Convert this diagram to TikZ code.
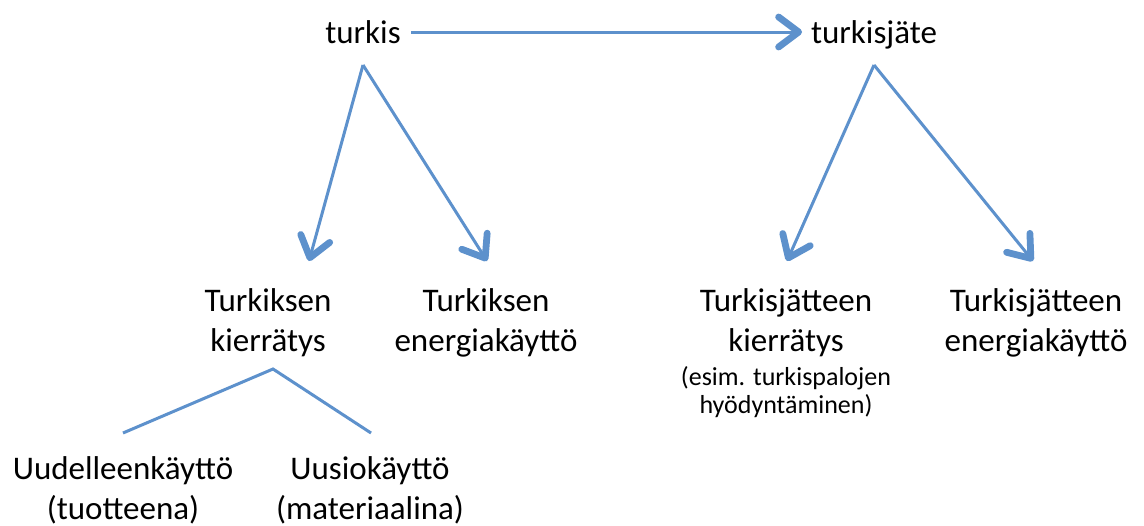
\documentclass[tikz,border=0pt]{standalone}
\usepackage{fontspec}
\setmainfont{Carlito}
\usetikzlibrary{arrows.meta}
\definecolor{flowblue}{RGB}{93,145,204}

\begin{document}
\begin{tikzpicture}[x=0.5pt, y=-0.5pt,
    term/.style={inner sep=0pt, align=center, font=\fontsize{16.5}{20}\selectfont},
    note/.style={inner sep=0pt, align=center, font=\fontsize{13}{14}\selectfont},
    arrow/.style={draw=flowblue, line width=1.5pt, -{Straight Barb[length=10pt, width=15pt, line width=3.4pt, round]}},
    branch/.style={draw=flowblue, line width=1.5pt}
]
    \useasboundingbox (0,0) rectangle (1144,525);

    \node[term, anchor=base] (turkis) at (363,43) {turkis};
    \node[term, anchor=base] (jate) at (874,43) {turkisjäte};

    \node[term] (tkierr) at (268,323) {Turkiksen\\kierrätys};
    \node[term] (tenerg) at (486,323) {Turkiksen\\energiakäyttö};
    \node[term] (jkierr) at (786,323) {Turkisjätteen\\kierrätys};
    \node[note] (jnote) at (786,392) {(esim. turkispalojen\\hyödyntäminen)};
    \node[term] (jenerg) at (1036,323) {Turkisjätteen\\energiakäyttö};

    \node[term] (uudel) at (123,490) {Uudelleenkäyttö\\(tuotteena)};
    \node[term] (uusio) at (370,490) {Uusiokäyttö\\(materiaalina)};

    % ends of the connectors
    \coordinate (turkis-right) at (411,32);
    \coordinate (jate-left) at (802,32);
    \coordinate (turkis-out) at (363,65);
    \coordinate (jate-out) at (874,65);
    \coordinate (tkierr-in) at (309,261);
    \coordinate (tenerg-in) at (487,261);
    \coordinate (jkierr-in) at (787,261);
    \coordinate (jenerg-in) at (1033,261);
    \coordinate (fork) at (273,369);
    \coordinate (uudel-in) at (123,433);
    \coordinate (uusio-in) at (371,433);

    % main flow
    \draw[arrow] (turkis-right) -- (jate-left);
    \draw[arrow] (turkis-out) -- (tkierr-in);
    \draw[arrow] (turkis-out) -- (tenerg-in);
    \draw[arrow] (jate-out) -- (jkierr-in);
    \draw[arrow] (jate-out) -- (jenerg-in);

    % recycling split
    \draw[branch] (uudel-in) -- (fork) -- (uusio-in);
\end{tikzpicture}
\end{document}
